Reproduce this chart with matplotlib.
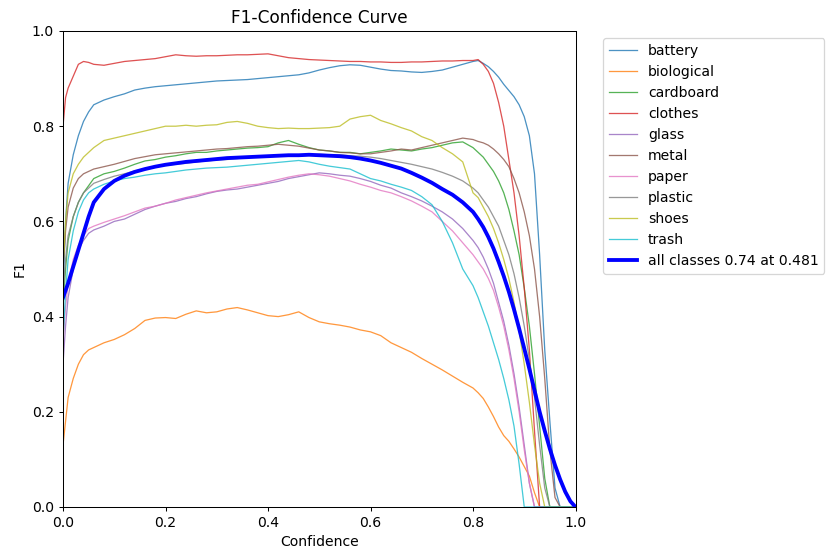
import matplotlib
matplotlib.use("Agg")
import matplotlib.pyplot as plt
import numpy as np

plt.rcParams["font.size"] = 11

# Confidence grid shared by all curves
conf = [0.0, 0.005, 0.01, 0.02, 0.03, 0.04, 0.05, 0.06,
        0.08, 0.10, 0.12, 0.14, 0.16, 0.18, 0.20, 0.22, 0.24,
        0.26, 0.28, 0.30, 0.32, 0.34, 0.36, 0.38, 0.40, 0.42,
        0.44, 0.46, 0.48, 0.50, 0.52, 0.54, 0.56, 0.58, 0.60,
        0.62, 0.64, 0.66, 0.68, 0.70, 0.72, 0.74, 0.76, 0.78,
        0.80, 0.81, 0.82, 0.83, 0.84, 0.85, 0.86, 0.87, 0.88, 0.89, 0.90,
        0.91, 0.92, 0.93, 0.94, 0.95, 0.96, 0.97, 0.98, 0.99, 1.00]

classes = ["battery", "biological", "cardboard", "clothes", "glass",
           "metal", "paper", "plastic", "shoes", "trash"]

battery = [0.45, 0.60, 0.68, 0.74, 0.78, 0.81, 0.83, 0.845,
           0.855, 0.862, 0.868, 0.876, 0.880, 0.883, 0.885, 0.887, 0.889,
           0.891, 0.893, 0.895, 0.896, 0.897, 0.898, 0.900, 0.902, 0.904,
           0.906, 0.908, 0.912, 0.918, 0.923, 0.927, 0.929, 0.928, 0.924,
           0.920, 0.917, 0.916, 0.914, 0.913, 0.915, 0.918, 0.924, 0.930,
           0.936, 0.938, 0.932, 0.925, 0.915, 0.903, 0.888, 0.875, 0.862, 0.845, 0.820,
           0.780, 0.700, 0.530, 0.330, 0.180, 0.040, 0.0, 0.0, 0.0, 0.0]

biological = [0.13, 0.18, 0.23, 0.27, 0.30, 0.32, 0.33, 0.335,
              0.345, 0.352, 0.362, 0.375, 0.392, 0.397, 0.398, 0.396, 0.405,
              0.412, 0.408, 0.410, 0.416, 0.419, 0.414, 0.408, 0.402, 0.400,
              0.404, 0.410, 0.398, 0.389, 0.385, 0.382, 0.378, 0.372, 0.368,
              0.360, 0.345, 0.335, 0.325, 0.312, 0.300, 0.288, 0.275, 0.262,
              0.250, 0.240, 0.228, 0.210, 0.190, 0.168, 0.150, 0.138, 0.122, 0.105, 0.085,
              0.065, 0.030, 0.0, 0.0, 0.0, 0.0, 0.0, 0.0, 0.0, 0.0]

cardboard = [0.42, 0.50, 0.56, 0.61, 0.64, 0.66, 0.675, 0.69,
             0.700, 0.705, 0.712, 0.720, 0.727, 0.730, 0.735, 0.738, 0.742,
             0.745, 0.745, 0.748, 0.750, 0.752, 0.754, 0.755, 0.757, 0.765,
             0.770, 0.762, 0.755, 0.750, 0.748, 0.745, 0.745, 0.742, 0.745,
             0.748, 0.752, 0.750, 0.748, 0.752, 0.755, 0.760, 0.765, 0.767,
             0.755, 0.745, 0.735, 0.720, 0.705, 0.685, 0.660, 0.625, 0.580, 0.530, 0.460,
             0.380, 0.280, 0.170, 0.060, 0.0, 0.0, 0.0, 0.0, 0.0, 0.0]

clothes = [0.80, 0.86, 0.88, 0.905, 0.93, 0.936, 0.934, 0.930,
           0.928, 0.932, 0.936, 0.938, 0.940, 0.942, 0.946, 0.950, 0.948,
           0.947, 0.948, 0.948, 0.949, 0.950, 0.950, 0.951, 0.952, 0.948,
           0.944, 0.942, 0.940, 0.939, 0.938, 0.937, 0.936, 0.936, 0.935,
           0.935, 0.934, 0.934, 0.935, 0.935, 0.936, 0.937, 0.937, 0.938,
           0.938, 0.940, 0.930, 0.915, 0.890, 0.850, 0.800, 0.730, 0.660, 0.570, 0.460,
           0.330, 0.160, 0.0, 0.0, 0.0, 0.0, 0.0, 0.0, 0.0, 0.0]

glass = [0.30, 0.38, 0.44, 0.50, 0.54, 0.56, 0.575, 0.582,
         0.590, 0.600, 0.605, 0.615, 0.625, 0.632, 0.638, 0.642, 0.648,
         0.652, 0.658, 0.663, 0.666, 0.668, 0.672, 0.676, 0.680, 0.684,
         0.690, 0.694, 0.698, 0.702, 0.700, 0.697, 0.695, 0.690, 0.684,
         0.676, 0.670, 0.660, 0.652, 0.643, 0.632, 0.620, 0.605, 0.585,
         0.560, 0.545, 0.525, 0.500, 0.470, 0.430, 0.390, 0.340, 0.280, 0.210, 0.130,
         0.050, 0.0, 0.0, 0.0, 0.0, 0.0, 0.0, 0.0, 0.0, 0.0]

metal = [0.50, 0.58, 0.63, 0.67, 0.69, 0.70, 0.705, 0.71,
         0.715, 0.720, 0.726, 0.732, 0.736, 0.740, 0.742, 0.744, 0.746,
         0.748, 0.750, 0.752, 0.753, 0.755, 0.757, 0.758, 0.760, 0.762,
         0.760, 0.758, 0.754, 0.750, 0.748, 0.745, 0.744, 0.742, 0.742,
         0.745, 0.748, 0.752, 0.750, 0.755, 0.760, 0.765, 0.770, 0.775,
         0.772, 0.768, 0.765, 0.760, 0.752, 0.742, 0.730, 0.715, 0.690, 0.660, 0.620,
         0.570, 0.500, 0.400, 0.270, 0.120, 0.020, 0.0, 0.0, 0.0, 0.0]

paper = [0.35, 0.42, 0.47, 0.52, 0.55, 0.57, 0.585, 0.59,
         0.598, 0.605, 0.612, 0.620, 0.628, 0.632, 0.638, 0.645, 0.650,
         0.655, 0.660, 0.664, 0.668, 0.672, 0.676, 0.678, 0.683, 0.688,
         0.693, 0.697, 0.700, 0.698, 0.695, 0.690, 0.685, 0.678, 0.672,
         0.665, 0.660, 0.652, 0.643, 0.632, 0.620, 0.600, 0.580, 0.555,
         0.530, 0.515, 0.500, 0.480, 0.455, 0.420, 0.380, 0.330, 0.270, 0.200, 0.120,
         0.050, 0.0, 0.0, 0.0, 0.0, 0.0, 0.0, 0.0, 0.0, 0.0]

plastic = [0.45, 0.52, 0.57, 0.61, 0.64, 0.66, 0.67, 0.68,
           0.688, 0.695, 0.700, 0.706, 0.710, 0.715, 0.718, 0.720, 0.722,
           0.725, 0.727, 0.729, 0.730, 0.732, 0.734, 0.735, 0.736, 0.737,
           0.738, 0.739, 0.740, 0.741, 0.740, 0.740, 0.738, 0.737, 0.735,
           0.732, 0.728, 0.724, 0.720, 0.715, 0.710, 0.703, 0.695, 0.685,
           0.670, 0.660, 0.645, 0.630, 0.610, 0.590, 0.560, 0.530, 0.490, 0.440, 0.380,
           0.310, 0.230, 0.130, 0.040, 0.0, 0.0, 0.0, 0.0, 0.0, 0.0]

shoes = [0.50, 0.60, 0.66, 0.70, 0.72, 0.735, 0.745, 0.755,
         0.770, 0.775, 0.780, 0.785, 0.790, 0.795, 0.800, 0.800, 0.802,
         0.800, 0.802, 0.803, 0.808, 0.810, 0.806, 0.800, 0.797, 0.795,
         0.796, 0.795, 0.795, 0.796, 0.797, 0.800, 0.815, 0.820, 0.823,
         0.812, 0.805, 0.797, 0.790, 0.778, 0.770, 0.755, 0.742, 0.725,
         0.660, 0.650, 0.630, 0.610, 0.585, 0.555, 0.520, 0.480, 0.430, 0.370, 0.300,
         0.220, 0.130, 0.050, 0.0, 0.0, 0.0, 0.0, 0.0, 0.0, 0.0]

trash = [0.35, 0.45, 0.52, 0.58, 0.62, 0.645, 0.66, 0.668,
         0.678, 0.685, 0.690, 0.693, 0.697, 0.700, 0.702, 0.705, 0.708,
         0.710, 0.712, 0.713, 0.714, 0.716, 0.718, 0.720, 0.722, 0.724,
         0.726, 0.728, 0.725, 0.720, 0.716, 0.713, 0.710, 0.700, 0.690,
         0.685, 0.678, 0.672, 0.665, 0.652, 0.635, 0.600, 0.555, 0.500,
         0.465, 0.440, 0.410, 0.380, 0.345, 0.310, 0.270, 0.225, 0.170, 0.090, 0.0,
         0.0, 0.0, 0.0, 0.0, 0.0, 0.0, 0.0, 0.0, 0.0, 0.0]

all_classes = [0.44, 0.455, 0.47, 0.505, 0.54, 0.575, 0.61, 0.64,
               0.668, 0.685, 0.696, 0.704, 0.710, 0.715, 0.719, 0.722, 0.725,
               0.727, 0.729, 0.731, 0.733, 0.734, 0.735, 0.736, 0.737, 0.738,
               0.739, 0.739, 0.740, 0.739, 0.738, 0.737, 0.735, 0.732, 0.728,
               0.723, 0.717, 0.711, 0.702, 0.692, 0.681, 0.668, 0.656, 0.640,
               0.620, 0.605, 0.588, 0.567, 0.543, 0.515, 0.485, 0.452, 0.415, 0.375, 0.333,
               0.290, 0.245, 0.200, 0.160, 0.122, 0.088, 0.058, 0.032, 0.012, 0.0]

series = [battery, biological, cardboard, clothes, glass,
          metal, paper, plastic, shoes, trash]
all_label = "all classes 0.74 at 0.481"

W, H = 827, 552
fig = plt.figure(figsize=(W / 92, H / 92), dpi=92)
ax = fig.add_axes([63 / W, 1 - 507 / H, (575.5 - 63) / W, (507 - 31) / H])

colors = plt.rcParams["axes.prop_cycle"].by_key()["color"]
for i, (name, y) in enumerate(zip(classes, series)):
    ax.plot(conf, y, linewidth=1, color=colors[i % len(colors)], label=name, alpha=0.8)
ax.plot(conf, all_classes, linewidth=3, color="blue", label=all_label)

ax.set_xlabel("Confidence")
ax.set_ylabel("F1")
ax.set_xlim(0, 1)
ax.set_ylim(0, 1)
ax.legend(bbox_to_anchor=(1.04, 1), loc="upper left")
ax.set_title("F1-Confidence Curve")

fig.savefig("out.png", dpi=92)
